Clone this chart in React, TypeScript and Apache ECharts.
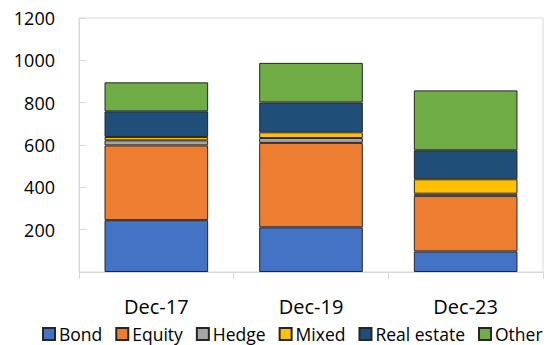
import React, { useEffect, useRef } from "react";
import * as echarts from "echarts";

const categories = ["Dec-17", "Dec-19", "Dec-23"];
const seriesNames = ["Bond", "Equity", "Hedge", "Mixed", "Real estate", "Other"];
const bond = [245, 211, 97];
const equity = [353, 399, 263];
const hedge = [24, 23, 10];
const mixed = [16, 27, 68];
const realEstate = [121, 141, 137];
const other = [137, 187, 283];
const colors = ["#4472C4", "#ED7D31", "#A5A5A5", "#FFC000", "#1F4E79", "#70AD47"];

export default function App() {
  const ref = useRef<HTMLDivElement>(null);
  useEffect(() => {
    if (!ref.current) return;
    const chart = echarts.init(ref.current, undefined, { renderer: "svg" });
    const values = [bond, equity, hedge, mixed, realEstate, other];
    const font = "'Open Sans', sans-serif";
    chart.setOption({
      animation: false,
      grid: {
        left: 79,
        right: 4,
        top: 18,
        bottom: 73,
        show: true,
        borderColor: "#d9d9d9",
        borderWidth: 1,
      },
      legend: {
        top: 325,
        left: 42,
        width: 505,
        padding: 0,
        itemWidth: 12,
        itemHeight: 12,
        itemGap: 13,
        icon: "rect",
        textStyle: { fontFamily: font, fontSize: 17.5, lineHeight: 18, color: "#000", padding: [0, 0, 0, -1] },
        data: seriesNames,
      },
      xAxis: {
        type: "category",
        data: categories,
        axisLine: { lineStyle: { color: "#d9d9d9", width: 1 } },
        axisTick: { show: true, length: 7, lineStyle: { color: "#d9d9d9" } },
        axisLabel: { fontFamily: font, fontSize: 20, color: "#000", margin: 24 },
      },
      yAxis: {
        type: "value",
        min: 0,
        max: 1200,
        interval: 200,
        splitLine: { show: false },
        axisLine: { show: true, lineStyle: { color: "#d9d9d9", width: 1 } },
        axisTick: { show: true, inside: true, length: 7, lineStyle: { color: "#d9d9d9" } },
        axisLabel: {
          fontFamily: font,
          fontSize: 18,
          color: "#000",
          margin: 24,
          formatter: (v: number) => (v === 0 ? "" : String(v)),
        },
      },
      series: seriesNames.map((name, i) => ({
        name,
        type: "bar",
        stack: "total",
        barCategoryGap: "33%",
        data: values[i],
        itemStyle: { color: colors[i], borderColor: "#262626", borderWidth: 1 },
      })),
    });
    return () => chart.dispose();
  }, []);
  return <div ref={ref} style={{ width: 547, height: 345, position: "absolute", left: 0, top: 0 }} />;
}
